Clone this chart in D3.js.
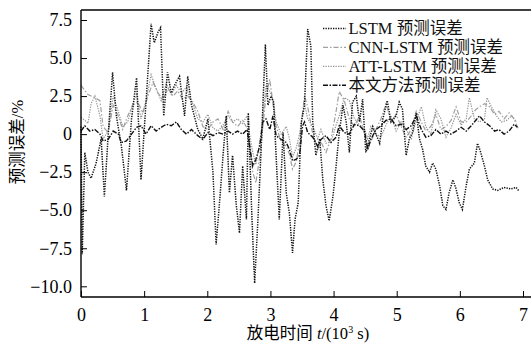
<!DOCTYPE html>
<html><head><meta charset="utf-8">
<script src="https://cdn.jsdelivr.net/npm/d3@7"></script>
<style>
body{margin:0;background:#fff;}
text{font-family:"Liberation Serif","Times New Roman","Noto Sans CJK SC",serif;}
</style></head>
<body><svg id="c" width="531" height="346"></svg>
<script>
// ---- data ----
const xTicks = [0,1,2,3,4,5,6,7];
const yTicks = [7.5,5.0,2.5,0,-2.5,-5.0,-7.5,-10.0];
const seriesNames = ["LSTM 预测误差","CNN-LSTM 预测误差","ATT-LSTM 预测误差","本文方法预测误差"];

const lstmT = [0.00,0.02,0.06,0.11,0.16,0.24,0.32,0.37,0.43,0.50,0.56,0.64,0.72,0.80,0.88,0.95,1.01,1.06,1.11,1.16,1.22,1.26,1.31,1.37,1.43,1.48,1.56,1.64,1.69,1.75,1.85,1.93,2.01,2.09,2.14,2.19,2.25,2.30,2.35,2.40,2.46,2.51,2.56,2.62,2.65,2.70,2.75,2.80,2.86,2.92,2.96,3.01,3.05,3.09,3.14,3.20,3.25,3.30,3.35,3.39,3.44,3.49,3.54,3.59,3.64,3.67,3.72,3.78,3.83,3.88,3.93,3.99,4.04,4.09,4.15,4.20,4.25,4.30,4.36,4.41,4.46,4.51,4.57,4.62,4.73,4.78,4.85,4.91,4.99,5.04,5.09,5.15,5.20,5.25,5.31,5.36,5.41,5.46,5.52,5.57,5.62,5.68,5.73,5.78,5.83,5.89,5.94,5.99,6.04,6.10,6.15,6.23,6.28,6.33,6.39,6.44,6.52,6.60,6.70,6.81,6.89,6.93];
const lstmV = [0.5,-7.9,-1.2,-2.5,-2.9,-1.9,-0.3,-4.1,-0.1,4.06,1.2,-0.8,-3.7,1.0,3.7,-3.0,0.8,4.06,7.25,6.0,6.7,7.0,1.2,4.06,2.7,3.2,3.8,1.2,3.8,1.9,0.3,-0.3,1.0,-2.5,-7.25,-4.7,-1.4,1.2,-3.85,-1.4,-4.7,-6.5,-2.1,-5.6,1.4,-4.7,-9.8,-5.8,-0.3,5.9,1.9,2.5,2.1,-1.4,-5.6,0.1,-3.85,-5.2,-7.8,-5.6,-4.5,0.8,1.9,6.9,5.8,0.8,-1.4,-0.3,-3.0,-4.7,-5.7,-4.1,-2.1,0.1,1.9,0.8,-1.2,2.1,2.5,0.8,2.3,-1.2,-0.3,0.5,-0.6,1.0,2.2,0.8,1.2,2.1,1.65,-1.4,-0.3,0.1,1.4,-0.3,-1.0,-2.1,-2.5,-1.9,-2.3,-3.4,-4.7,-4.95,-3.85,-3.0,-3.6,-4.5,-4.95,-3.4,-2.3,-1.9,-0.6,-1.2,-2.1,-3.0,-3.6,-3.7,-3.5,-3.6,-3.5,-3.7];

const cnnT = [0.00,0.11,0.22,0.30,0.35,0.43,0.51,0.59,0.66,0.74,0.82,0.90,0.98,1.06,1.14,1.22,1.30,1.38,1.46,1.53,1.61,1.69,1.77,1.85,1.93,2.01,2.09,2.17,2.25,2.33,2.40,2.48,2.56,2.63,2.67,2.72,2.77,2.83,2.88,2.93,2.99,3.04,3.09,3.17,3.25,3.30,3.35,3.41,3.46,3.51,3.54,3.59,3.67,3.75,3.80,3.88,3.96,4.04,4.09,4.17,4.25,4.33,4.41,4.49,4.54,4.59,4.67,4.75,4.83,4.91,4.99,5.07,5.15,5.23,5.31,5.39,5.46,5.54,5.62,5.70,5.78,5.86,5.94,6.02,6.10,6.18,6.25,6.31,6.39,6.47,6.55,6.62,6.70,6.78,6.86,6.93];
const cnnV = [3.2,2.6,2.4,2.2,0.5,0.1,1.9,1.2,0.3,1.2,1.9,2.1,1.4,2.5,3.4,2.7,2.3,3.0,2.5,2.85,2.3,2.5,2.1,1.5,0.5,0.3,0.8,1.0,0.3,1.5,0.8,0.5,0.9,0.4,-0.5,-2.5,-3.2,-1.5,0.5,2.5,3.6,2.0,0.5,-0.5,-0.8,-1.3,-2.3,-1.8,-0.5,1.5,2.5,1.8,0.0,-1.0,-0.5,-1.2,-0.3,1.5,2.8,2.2,1.0,0.5,1.2,0.0,-1.0,-0.5,0.3,1.0,2.0,0.8,1.3,0.5,-0.2,0.3,1.5,0.8,0.2,0.5,1.3,0.3,0.5,0.9,1.8,0.8,0.8,1.2,1.6,1.8,2.0,1.8,1.3,1.5,1.0,1.4,1.0,0.3];

const attT = [0.00,0.06,0.11,0.16,0.22,0.30,0.35,0.43,0.51,0.59,0.66,0.74,0.82,0.88,0.95,1.03,1.11,1.19,1.27,1.35,1.43,1.51,1.59,1.67,1.72,1.77,1.85,1.93,2.01,2.09,2.17,2.25,2.33,2.40,2.48,2.56,2.63,2.67,2.72,2.77,2.83,2.88,2.93,2.99,3.04,3.09,3.17,3.25,3.30,3.35,3.41,3.46,3.51,3.54,3.59,3.67,3.75,3.80,3.88,3.96,4.04,4.09,4.17,4.25,4.33,4.41,4.49,4.54,4.59,4.67,4.75,4.83,4.91,4.99,5.07,5.15,5.23,5.31,5.39,5.46,5.54,5.62,5.70,5.78,5.86,5.94,6.02,6.10,6.15,6.23,6.31,6.39,6.43,6.50,6.58,6.66,6.74,6.82,6.90];
const attV = [1.1,0.9,0.7,2.0,2.5,1.2,-0.3,0.2,2.5,1.5,0.5,0.8,2.0,2.6,1.0,2.2,3.9,3.0,2.2,3.3,2.6,3.2,2.7,3.1,2.4,2.0,1.0,0.8,1.3,0.4,0.2,0.6,1.2,0.8,1.0,0.7,1.2,0.0,-1.2,-2.0,-0.5,1.0,3.2,2.8,2.3,0.8,0.0,0.5,-0.3,-1.5,-0.9,0.0,1.3,2.0,1.0,0.5,-0.3,0.3,-0.6,-0.5,0.6,1.2,2.4,2.2,1.0,0.6,0.3,-0.3,0.5,0.0,-0.2,0.6,1.2,0.2,0.8,0.3,-0.3,0.9,1.8,0.5,0.0,1.6,1.0,-0.2,0.4,1.3,0.6,1.0,2.4,1.0,0.8,1.0,2.4,1.8,1.2,0.8,0.9,1.2,0.8];

const oursT = [0.00,0.06,0.14,0.22,0.30,0.35,0.43,0.51,0.59,0.64,0.72,0.80,0.88,0.95,1.03,1.11,1.19,1.27,1.35,1.43,1.51,1.59,1.67,1.75,1.85,1.93,2.01,2.09,2.17,2.25,2.33,2.40,2.48,2.56,2.63,2.67,2.72,2.77,2.83,2.88,2.93,2.99,3.04,3.09,3.17,3.25,3.30,3.35,3.41,3.46,3.51,3.54,3.59,3.67,3.75,3.80,3.88,3.96,4.04,4.09,4.17,4.25,4.33,4.41,4.49,4.54,4.59,4.67,4.75,4.83,4.91,4.99,5.07,5.15,5.23,5.31,5.39,5.46,5.54,5.62,5.70,5.78,5.86,5.94,6.02,6.10,6.18,6.25,6.31,6.39,6.47,6.55,6.62,6.70,6.78,6.86,6.91];
const oursV = [0.2,0.55,0.2,0.3,0.0,-0.45,-0.35,0.2,0.0,-0.55,-0.45,0.0,0.45,0.55,0.0,0.55,0.2,0.45,0.65,0.55,0.8,0.3,0.0,0.3,-0.1,-0.35,0.1,-0.1,0.1,0.0,0.2,0.0,0.2,0.0,0.3,-0.8,-2.1,-1.65,-0.8,0.8,1.0,0.3,1.2,-0.1,-0.35,-0.55,-1.0,-1.75,-1.65,-1.4,0.55,0.8,0.1,-0.2,-0.8,-0.35,-0.1,-0.55,-0.2,0.55,0.1,0.0,0.65,0.55,0.2,-1.0,-0.35,0.3,0.55,0.9,1.0,0.55,0.65,0.3,0.55,1.2,0.3,-0.2,-0.1,0.3,0.0,0.2,0.0,0.2,0.45,0.2,0.55,0.9,1.2,0.8,0.55,0.2,0.3,0.0,0.2,0.65,0.45];

// ---- chart ----
const svg = d3.select("#c");
const plotL = 81, plotR = 531, plotT = 10, plotB = 297;
const x = d3.scaleLinear().domain([0,7]).range([81,523]);
const y = d3.scaleLinear().domain([-10,7.5]).range([286.3,20]);

const styles = [
  {color:"#111", dash:"1.3,1.2", w:1.5},
  {color:"#a0a0a0", dash:"5,2,1.5,2", w:1.2},
  {color:"#959595", dash:"1.3,1.2", w:1.2},
  {color:"#111", dash:"5,1.5,1.5,1.5", w:1.4}
];
const data = [
  d3.zip(lstmT,lstmV), d3.zip(cnnT,cnnV), d3.zip(attT,attV), d3.zip(oursT,oursV)
];
const line = d3.line().x(d=>x(d[0])).y(d=>y(d[1]));
const drawOrder = [1,2,0,3];
drawOrder.forEach(i=>{
  svg.append("path").datum(data[i]).attr("d",line)
    .attr("fill","none").attr("stroke",styles[i].color)
    .attr("stroke-width",styles[i].w).attr("stroke-dasharray",styles[i].dash);
});

// frame
svg.append("line").attr("x1",plotL).attr("x2",plotR).attr("y1",plotT).attr("y2",plotT).attr("stroke","#000").attr("stroke-width",1.4);

const fmtY = d => d===0 ? "0" : d3.format(".1f")(d).replace("-","\u2212");
const yAxis = svg.append("g").attr("transform",`translate(${plotL},0)`)
  .call(d3.axisLeft(y).tickValues(yTicks).tickSizeInner(-6).tickSizeOuter(0).tickPadding(9).tickFormat(fmtY));
const xAxis = svg.append("g").attr("transform",`translate(0,${plotB})`)
  .call(d3.axisBottom(x).tickValues(xTicks).tickSizeInner(-6).tickSizeOuter(0).tickPadding(11).tickFormat(d3.format("d")));
[yAxis,xAxis].forEach(g=>{
  g.select(".domain").remove();
  g.selectAll("line").attr("stroke","#000").attr("stroke-width",1);
  g.selectAll("text").attr("font-size",18).attr("fill","#000")
    .style("font-family",'"Liberation Serif","Times New Roman",serif');
});
svg.append("line").attr("x1",plotL).attr("x2",plotL).attr("y1",plotT).attr("y2",plotB).attr("stroke","#000").attr("stroke-width",1.4);
svg.append("line").attr("x1",plotL).attr("x2",plotR).attr("y1",plotB).attr("y2",plotB).attr("stroke","#000").attr("stroke-width",1.4);

// axis titles
const xl = svg.append("text").attr("x",308).attr("y",339).attr("text-anchor","middle").attr("font-size",16.5).attr("fill","#000");
xl.append("tspan").text("放电时间 ");
xl.append("tspan").attr("font-style","italic").text("t");
xl.append("tspan").text("/(10");
xl.append("tspan").attr("font-size",10).attr("dy",-6).text("3");
xl.append("tspan").attr("dy",6).text(" s)");

svg.append("text").attr("transform","translate(23,142) rotate(-90)")
  .attr("text-anchor","middle").attr("font-size",16.5).attr("fill","#000").text("预测误差/%");

// legend
const lg = svg.append("g");
seriesNames.forEach((n,i)=>{
  const cy = 28.5 + i*18.9;
  lg.append("line").attr("x1",323).attr("x2",346).attr("y1",cy).attr("y2",cy)
    .attr("stroke",styles[i].color).attr("stroke-width",styles[i].w).attr("stroke-dasharray",styles[i].dash);
  lg.append("text").attr("x",348.5).attr("y",cy+5.5).attr("font-size",16.5).attr("fill","#111").text(n);
});
</script></body></html>
